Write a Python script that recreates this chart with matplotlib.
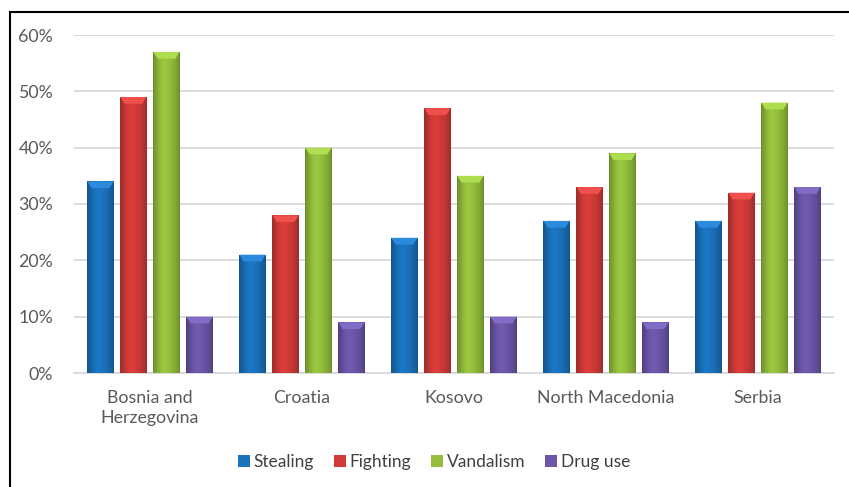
import numpy as np
import matplotlib
matplotlib.use("Agg")
import matplotlib.pyplot as plt
from matplotlib.lines import Line2D
from matplotlib.colors import to_rgb

plt.rcParams['font.family'] = ['Lato', 'DejaVu Sans']

countries = ["Bosnia and\nHerzegovina", "Croatia", "Kosovo", "North Macedonia", "Serbia"]
series_names = ["Stealing", "Fighting", "Vandalism", "Drug use"]
stealing = [34, 21, 24, 27, 27]
fighting = [49, 28, 47, 33, 32]
vandalism = [57, 40, 35, 39, 48]
drug_use = [10, 9, 10, 9, 33]
y_ticks = [0, 10, 20, 30, 40, 50, 60]

series = [stealing, fighting, vandalism, drug_use]
colors = ["#1a72bd", "#d13b37", "#94be3c", "#6b56a8"]

fig = plt.figure(figsize=(8.49, 4.87), dpi=100)
ax = fig.add_axes([74/849, 1-373/487, 760/849, (373-35)/487])

x = np.arange(len(countries))
width = 0.172
step = 0.217
offsets = (np.arange(4) - 1.5) * step


def shade(color, n=64):
    base = np.array(to_rgb(color))
    t = np.linspace(-1, 1, n)
    k = 1.0 - 0.25 * t**2 + 0.06 * np.exp(-((t + 0.25) / 0.35)**2)
    rgb = np.clip(base[None, :] * k[:, None], 0, 1)
    return rgb[None, :, :]


for vals, col, off, name in zip(series, colors, offsets, series_names):
    bars = ax.bar(x + off, vals, width, color=col, label=name, zorder=3,
                  edgecolor="none")
    img = shade(col)
    for b in bars:
        x0, y0 = b.get_x(), b.get_y()
        w, h = b.get_width(), b.get_height()
        im = ax.imshow(img, extent=[x0, x0 + w, y0, y0 + h], aspect="auto",
                       zorder=3.5, interpolation="bicubic")
        im.set_clip_path(b)
        # bevelled top edge
        cap = min(1.2, h)
        top = np.clip(np.array(to_rgb(col)) * 1.08 + 0.06, 0, 1)
        ax.fill([x0, x0 + w, x0 + w * 0.84, x0 + w * 0.16],
                [y0 + h, y0 + h, y0 + h - cap, y0 + h - cap],
                color=top, zorder=4, lw=0)

ax.set_xlim(-0.5, len(countries) - 0.5)
ax.set_ylim(0, 60)
ax.set_yticks(y_ticks)
ax.set_yticklabels([f"{v}%" for v in y_ticks])
ax.set_xticks(x)
ax.set_xticklabels(countries, linespacing=1.35)
ax.tick_params(axis="both", length=0, labelsize=12.8, colors="#595959")
ax.tick_params(axis="y", pad=15)
ax.tick_params(axis="x", pad=12)
ax.yaxis.grid(True, color="#d9d9d9", lw=1.3, zorder=0)
ax.set_axisbelow(True)
for s in ["top", "right", "left"]:
    ax.spines[s].set_visible(False)
ax.spines["bottom"].set_color("#d9d9d9")
ax.spines["bottom"].set_linewidth(1.3)

leg = fig.legend(loc="center", bbox_to_anchor=(434/849, 1-462/487), ncol=4,
                 frameon=False, fontsize=12.5, handlelength=0.7,
                 handleheight=0.7, handletextpad=0.2, columnspacing=1.15)
for t in leg.get_texts():
    t.set_color("#404040")

# outer frame
fig.add_artist(Line2D([10/849, 1], [1-12/487, 1-12/487], color="black", lw=1.5,
                      transform=fig.transFigure))
fig.add_artist(Line2D([10/849, 10/849], [0, 1-12/487], color="black", lw=1.5,
                      transform=fig.transFigure))

fig.savefig("out.png", dpi=100)
